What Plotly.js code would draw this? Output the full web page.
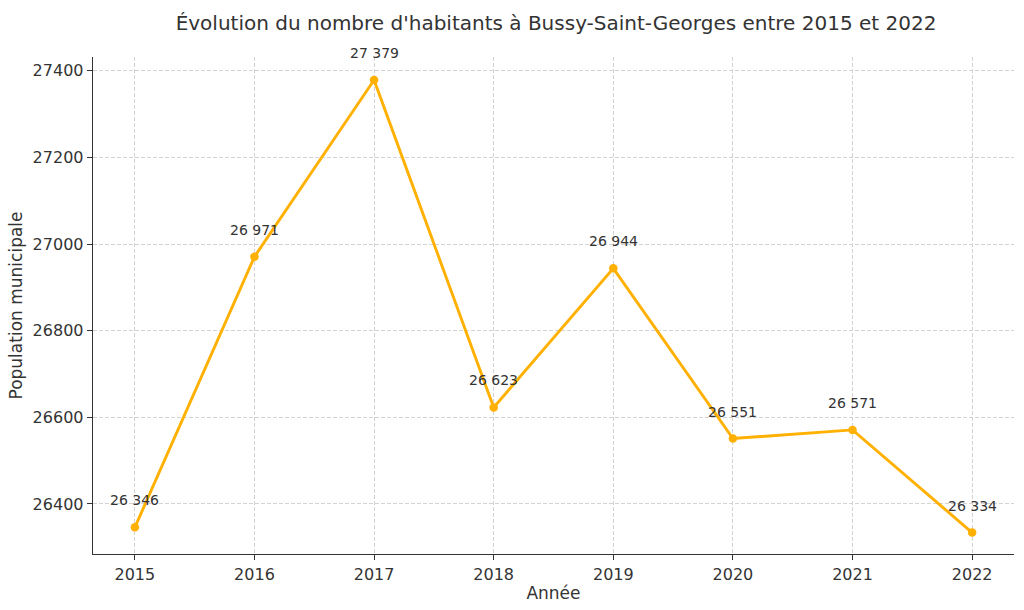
<!DOCTYPE html>
<html>
<head>
<meta charset="utf-8">
<script src="https://cdn.plot.ly/plotly-3.0.1.min.js"></script>
<style>html,body{margin:0;padding:0;background:#fff;}#chart{width:1024px;height:610px;}</style>
</head>
<body>
<div id="chart"></div>
<script>
const years = [2015, 2016, 2017, 2018, 2019, 2020, 2021, 2022];
const population = [26346, 26971, 27379, 26623, 26944, 26551, 26571, 26334];
const yTicks = [26400, 26600, 26800, 27000, 27200, 27400];

const fmt = v => String(v).replace(/\B(?=(\d{3})+(?!\d))/g, ' ');
const lineColor = '#FFB000';
const font = 'DejaVu Sans, sans-serif';

const trace = {
  x: years, y: population, type: 'scatter', mode: 'lines+markers',
  line: {color: lineColor, width: 2.9},
  marker: {color: lineColor, size: 8.5},
  hoverinfo: 'skip'
};

const annotations = years.map((yr, i) => ({
  x: yr, y: population[i], xref: 'x', yref: 'y',
  text: fmt(population[i]), showarrow: false,
  yshift: 27, font: {family: font, size: 14, color: '#333'}
}));

const layout = {
  width: 1024, height: 610,
  margin: {l: 93, r: 10, t: 57, b: 56},
  paper_bgcolor: '#fff', plot_bgcolor: '#fff',
  title: {text: "Évolution du nombre d'habitants à Bussy-Saint-Georges entre 2015 et 2022",
    font: {family: font, size: 20, color: '#333'}, x: 0.543, xanchor: 'center', y: 0.962, yanchor: 'middle'},
  xaxis: {
    range: [2014.65, 2022.35], tickvals: years, ticktext: years.map(String),
    showgrid: true, gridcolor: '#d3d3d3', griddash: '4px,2px', gridwidth: 1,
    showline: true, linecolor: '#333', linewidth: 1.3,
    ticks: 'outside', ticklen: 5, tickcolor: '#333',
    tickfont: {family: font, size: 16, color: '#333'},
    zeroline: false,
    title: {text: 'Année', font: {family: font, size: 17, color: '#333'}, standoff: 4}
  },
  yaxis: {
    range: [26284.5, 27432], tickvals: yTicks, ticktext: yTicks.map(String),
    showgrid: true, gridcolor: '#d3d3d3', griddash: '4px,2px', gridwidth: 1,
    showline: true, linecolor: '#333', linewidth: 1.3,
    ticks: 'outside', ticklen: 5, tickcolor: '#333',
    tickfont: {family: font, size: 16, color: '#333'},
    zeroline: false,
    title: {text: 'Population municipale', font: {family: font, size: 17, color: '#333'}, standoff: 5}
  },
  annotations: annotations,
  showlegend: false
};

Plotly.newPlot('chart', [trace], layout, {displayModeBar: false, staticPlot: true});
</script>
</body>
</html>
